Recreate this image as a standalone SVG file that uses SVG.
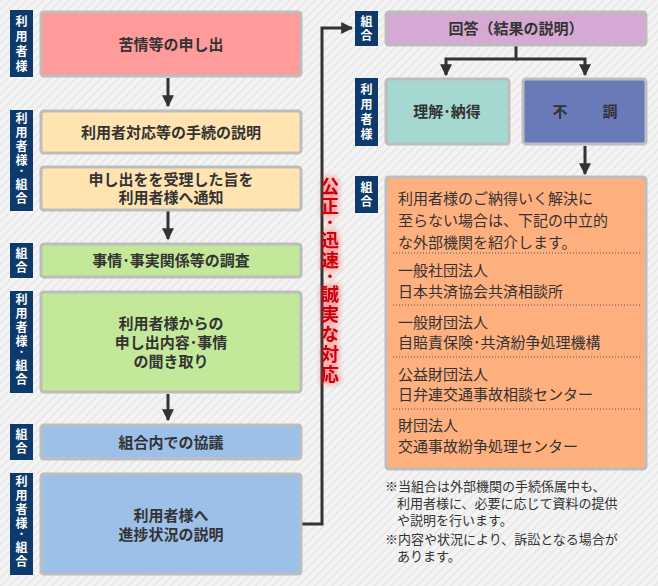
<svg xmlns="http://www.w3.org/2000/svg" width="658" height="586" viewBox="0 0 658 586">
<defs>
<pattern id="bg" width="6" height="6" patternUnits="userSpaceOnUse" patternTransform="rotate(-45)">
<rect width="6" height="6" fill="#f4f4f4"/><rect width="6" height="2" fill="#e9e9e9"/>
</pattern>
<marker id="ah" viewBox="0 0 10 10" refX="9" refY="5" markerWidth="4" markerHeight="4" orient="auto" markerUnits="strokeWidth"><path d="M0,0L10,5L0,10z" fill="#333"/></marker>
<filter id="glow" x="-50%" y="-10%" width="200%" height="120%"><feGaussianBlur in="SourceAlpha" stdDeviation="3" result="b"/><feFlood flood-color="#ff3030" flood-opacity="0.55"/><feComposite in2="b" operator="in" result="g"/><feMerge><feMergeNode in="g"/><feMergeNode in="g"/><feMergeNode in="SourceGraphic"/></feMerge></filter>
</defs>
<style>
text{font-family:"Noto Sans CJK JP",sans-serif;font-weight:bold;fill:#333}
.box{stroke:#bdbdbd;stroke-width:3}
.lab{fill:#0d3a6b}
.lt{fill:#fff;font-size:12px}
.bt{font-size:15px;text-anchor:middle}
.rt{font-size:15px;font-weight:normal}
.nt{font-size:13px;font-weight:normal}
.ln{stroke:#333;stroke-width:3;fill:none}
.dot{stroke:#555;stroke-width:1;stroke-dasharray:1 2}
</style>
<rect width="658" height="586" fill="url(#bg)"/>
<g id="connectors">
<line class="ln" x1="168" y1="78" x2="168" y2="106" marker-end="url(#ah)"/>
<line class="ln" x1="168" y1="211" x2="168" y2="239" marker-end="url(#ah)"/>
<line class="ln" x1="168" y1="394" x2="168" y2="420" marker-end="url(#ah)"/>
<polyline class="ln" points="302,524 322,524 322,28 352,28" marker-end="url(#ah)"/>
<polyline class="ln" points="516,46 516,59 446,59 446,75" marker-end="url(#ah)"/>
<polyline class="ln" points="516,59 585,59 585,75" marker-end="url(#ah)"/>
<line class="ln" x1="585" y1="146" x2="585" y2="174" marker-end="url(#ah)"/>
</g>
<g id="n1"><rect class="lab" x="10" y="10" width="23" height="67"/><text class="lt" x="21.5" y="26" text-anchor="middle">利<tspan x="21.5" dy="15">用</tspan><tspan x="21.5" dy="15">者</tspan><tspan x="21.5" dy="15">様</tspan></text>
<rect class="box" x="41" y="12" width="260" height="64" rx="3" fill="#ff9b9b"/><text class="bt" x="171" y="50">苦情等の申し出</text></g>
<g id="n2"><rect class="lab" x="10" y="110" width="23" height="101"/><text class="lt" x="21.5" y="123" text-anchor="middle">利<tspan x="21.5" dy="14">用</tspan><tspan x="21.5" dy="14">者</tspan><tspan x="21.5" dy="14">様</tspan><tspan x="21.5" dy="11">･</tspan><tspan x="21.5" dy="13">組</tspan><tspan x="21.5" dy="14">合</tspan></text>
<rect class="box" x="41" y="111" width="260" height="42" rx="3" fill="#ffe4b2"/><text class="bt" x="171" y="138">利用者対応等の手続の説明</text>
<rect class="box" x="41" y="167" width="260" height="43" rx="3" fill="#ffe4b2"/><text class="bt" x="171" y="185">申し出をを受理した旨を</text><text class="bt" x="171" y="203">利用者様へ通知</text></g>
<g id="n3"><rect class="lab" x="10" y="243" width="23" height="35"/><text class="lt" x="21.5" y="258" text-anchor="middle">組<tspan x="21.5" dy="14">合</tspan></text>
<rect class="box" x="41" y="244" width="260" height="33" rx="3" fill="#c4e89a"/><text class="bt" x="171" y="266">事情･事実関係等の調査</text></g>
<g id="n4"><rect class="lab" x="10" y="291" width="23" height="102"/><text class="lt" x="21.5" y="304" text-anchor="middle">利<tspan x="21.5" dy="14">用</tspan><tspan x="21.5" dy="14">者</tspan><tspan x="21.5" dy="14">様</tspan><tspan x="21.5" dy="11">･</tspan><tspan x="21.5" dy="13">組</tspan><tspan x="21.5" dy="14">合</tspan></text>
<rect class="box" x="41" y="292" width="260" height="100" rx="3" fill="#c4e89a"/><text class="bt" x="171" y="329">利用者様からの</text><text class="bt" x="171" y="348">申し出内容･事情</text><text class="bt" x="171" y="367">の聞き取り</text></g>
<g id="n5"><rect class="lab" x="10" y="424" width="23" height="36"/><text class="lt" x="21.5" y="439" text-anchor="middle">組<tspan x="21.5" dy="14">合</tspan></text>
<rect class="box" x="41" y="425" width="260" height="34" rx="3" fill="#9cc0e8"/><text class="bt" x="171" y="448">組合内での協議</text></g>
<g id="n6"><rect class="lab" x="10" y="473" width="23" height="102"/><text class="lt" x="21.5" y="486" text-anchor="middle">利<tspan x="21.5" dy="14">用</tspan><tspan x="21.5" dy="14">者</tspan><tspan x="21.5" dy="14">様</tspan><tspan x="21.5" dy="11">･</tspan><tspan x="21.5" dy="13">組</tspan><tspan x="21.5" dy="14">合</tspan></text>
<rect class="box" x="41" y="474" width="260" height="100" rx="3" fill="#9cc0e8"/><text class="bt" x="171" y="521">利用者様へ</text><text class="bt" x="171" y="540">進捗状況の説明</text></g>
<g id="slogan" filter="url(#glow)"><text x="330" y="193" text-anchor="middle" style="fill:#c8000a;font-size:18px">公<tspan x="330" dy="20">正</tspan><tspan x="330" dy="16">･</tspan><tspan x="330" dy="18">迅</tspan><tspan x="330" dy="20">速</tspan><tspan x="330" dy="16">･</tspan><tspan x="330" dy="18">誠</tspan><tspan x="330" dy="20">実</tspan><tspan x="330" dy="20">な</tspan><tspan x="330" dy="20">対</tspan><tspan x="330" dy="20">応</tspan></text></g>
<g id="n7"><rect class="lab" x="355" y="11" width="23" height="35"/><text class="lt" x="366.5" y="26" text-anchor="middle">組<tspan x="366.5" dy="14">合</tspan></text>
<rect class="box" x="386" y="12" width="260" height="33" rx="3" fill="#d6a8d4"/><text class="bt" x="516" y="34">回答（結果の説明）</text></g>
<g id="n8"><rect class="lab" x="355" y="78" width="23" height="68"/><text class="lt" x="366.5" y="94" text-anchor="middle">利<tspan x="366.5" dy="15">用</tspan><tspan x="366.5" dy="15">者</tspan><tspan x="366.5" dy="15">様</tspan></text>
<rect class="box" x="386" y="79" width="123" height="65" rx="3" fill="#a6d8d2"/><text class="bt" x="447" y="117">理解･納得</text></g>
<g id="n9"><rect class="box" x="523" y="79" width="123" height="65" rx="3" fill="#6a7ab8"/><text class="bt" x="560" y="117">不</text><text class="bt" x="610" y="117">調</text></g>
<g id="n10"><rect class="lab" x="355" y="176" width="23" height="37"/><text class="lt" x="366.5" y="192" text-anchor="middle">組<tspan x="366.5" dy="14">合</tspan></text>
<rect class="box" x="386" y="177" width="260" height="292" rx="3" fill="#ffb07e"/>
<text class="rt" x="398" y="204">利用者様のご納得いく解決に</text>
<text class="rt" x="398" y="226">至らない場合は、下記の中立的</text>
<text class="rt" x="398" y="248">な外部機関を紹介します。</text>
<line class="dot" x1="393" y1="253" x2="640" y2="253"/>
<text class="rt" x="398" y="276">一般社団法人</text><text class="rt" x="398" y="297">日本共済協会共済相談所</text>
<line class="dot" x1="393" y1="305" x2="640" y2="305"/>
<text class="rt" x="398" y="328">一般財団法人</text><text class="rt" x="398" y="348">自賠責保険･共済紛争処理機構</text>
<line class="dot" x1="393" y1="357" x2="640" y2="357"/>
<text class="rt" x="398" y="380">公益財団法人</text><text class="rt" x="398" y="400">日弁連交通事故相談センター</text>
<line class="dot" x1="393" y1="409" x2="640" y2="409"/>
<text class="rt" x="398" y="431">財団法人</text><text class="rt" x="398" y="452">交通事故紛争処理センター</text></g>
<g id="notes">
<text class="nt" x="385" y="491">※当組合は外部機関の手続係属中も、</text>
<text class="nt" x="397" y="508">利用者様に、必要に応じて資料の提供</text>
<text class="nt" x="397" y="525">や説明を行います。</text>
<text class="nt" x="385" y="544">※内容や状況により、訴訟となる場合が</text>
<text class="nt" x="397" y="561">あります。</text>
</g>
</svg>
